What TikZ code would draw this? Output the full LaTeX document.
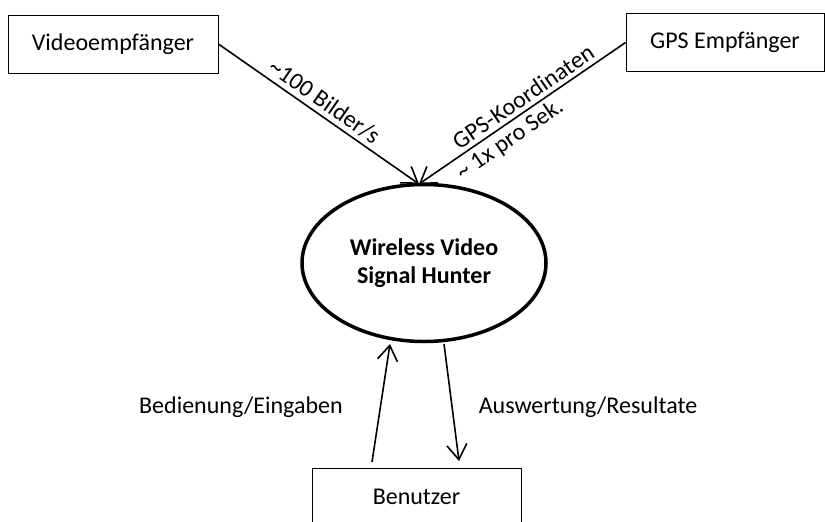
\documentclass[tikz,border=0pt]{standalone}
\usepackage{fontspec}
\setmainfont{Carlito}
\usetikzlibrary{shapes.geometric,arrows.meta,calc,positioning}
\tikzstyle{flowarrow} = [line width=1.6pt,-{Straight Barb[length=15pt,width=20pt,line width=1.6pt]}]
\tikzstyle{extbox} = [draw, line width=0.8pt, minimum width=210pt, minimum height=58pt, inner sep=0pt]
\tikzstyle{hunterellipse} = [ellipse, draw, line width=3.5pt, minimum width=244pt, minimum height=157pt, inner sep=0pt, align=center, font=\bfseries\fontsize{24}{28}\selectfont]

\begin{document}
\begin{tikzpicture}[x=1pt,y=1pt,font=\fontsize{24}{29}\selectfont]

    \useasboundingbox (0,0) rectangle (825,-522);

    % sources and user
    \node[extbox] (video) at (113,-44) {Videoempfänger};
    \node[extbox, minimum width=198pt] (gps) at (725,-42.5) {GPS Empfänger};
    \node[extbox, minimum width=209pt] (user) at (416.5,-497) {Benutzer};

    % system
    \node[hunterellipse] (hunter) at (424,-263) {Wireless Video\\Signal Hunter};

    \coordinate (in) at (419,-184);
    \coordinate (upstart) at (372,-462);
    \coordinate (upend) at (390,-344);
    \coordinate (downstart) at (444,-344);
    \coordinate (downend) at (459,-461);

	\draw[flowarrow] (video.east) -- (in)
	    node[pos=0.49, above, sloped, inner sep=4pt] {\textasciitilde100 Bilder/s};
	\draw[flowarrow] (gps.west) -- (in)
	    node[pos=0.46, above, sloped, inner sep=4pt] {GPS-Koordinaten}
	    node[pos=0.6, below, sloped, inner sep=4pt] {\textasciitilde{} 1x pro Sek.};

	\draw[flowarrow] (upstart) -- (upend);
	\draw[flowarrow] (downstart) -- (downend);

    \node (input) at (241,-407) {Bedienung/Eingaben};
    \node (output) at (588,-407) {Auswertung/Resultate};

\end{tikzpicture}
\end{document}
